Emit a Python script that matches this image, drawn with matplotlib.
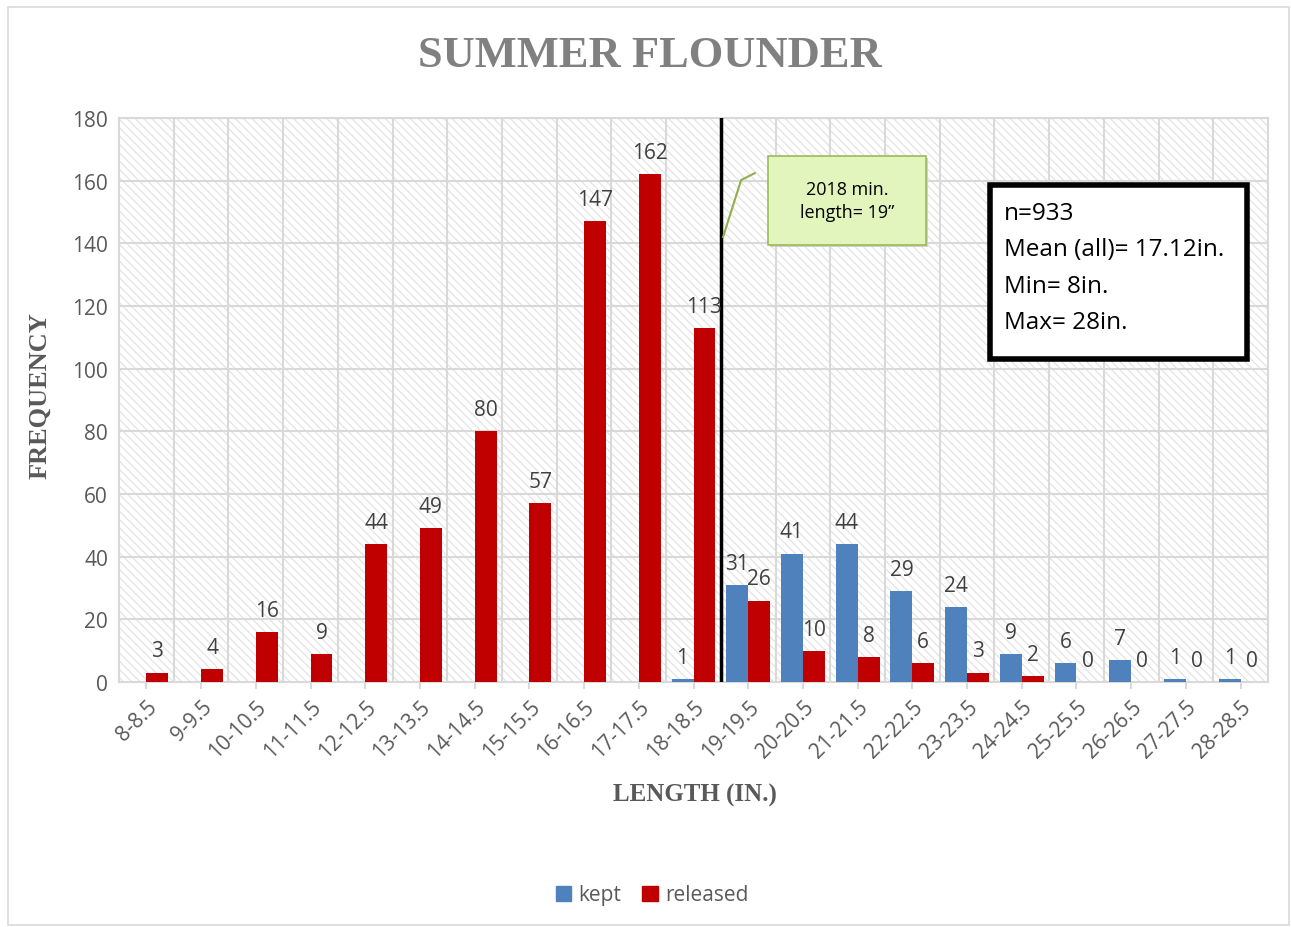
import matplotlib
matplotlib.use("Agg")
import matplotlib.pyplot as plt
from matplotlib.patches import Rectangle
import numpy as np

categories = ["8-8.5", "9-9.5", "10-10.5", "11-11.5", "12-12.5", "13-13.5", "14-14.5",
              "15-15.5", "16-16.5", "17-17.5", "18-18.5", "19-19.5", "20-20.5", "21-21.5",
              "22-22.5", "23-23.5", "24-24.5", "25-25.5", "26-26.5", "27-27.5", "28-28.5"]
kept = [None, None, None, None, None, None, None, None, None, None,
        1, 31, 41, 44, 29, 24, 9, 6, 7, 1, 1]
released = [3, 4, 16, 9, 44, 49, 80, 57, 147, 162,
            113, 26, 10, 8, 6, 3, 2, 0, 0, 0, 0]

KEPT_C = "#4F81BD"
REL_C = "#C00000"
GRID_C = "#d9d9d9"
TXT_C = "#595959"
LAB_C = "#404040"
SANS = ["Open Sans", "DejaVu Sans"]
SERIF = ["Liberation Serif", "DejaVu Serif"]

plt.rcParams["hatch.linewidth"] = 0.9

fig = plt.figure(figsize=(12.91, 9.28), dpi=100)
ax = fig.add_axes([119/1291, 1-683/928, (1268-119)/1291, (683-119)/928])

n = len(categories)
x = np.arange(n)
w = 0.4

ax.set_xlim(-0.5, n-0.5)
ax.set_ylim(0, 180)

# hatched background
bg = Rectangle((0, 0), 1, 1, transform=ax.transAxes, facecolor="white",
               edgecolor="#e4e4e4", hatch="\\"*4, lw=0, zorder=0)
ax.add_patch(bg)

kx = [xi for xi, v in zip(x, kept) if v is not None]
kv = [v for v in kept if v is not None]
ax.bar(np.array(kx) - w/2, kv, width=w, color=KEPT_C, zorder=3)
ax.bar(x + w/2, released, width=w, color=REL_C, zorder=3)

for xi, v in zip(kx, kv):
    ax.annotate(str(v), (xi - w/2, v), xytext=(0, 8), textcoords="offset points",
                ha="center", va="bottom", fontsize=15, color=LAB_C, family=SANS, zorder=5)
for xi, v in zip(x, released):
    ax.annotate(str(v), (xi + w/2, v), xytext=(0, 8), textcoords="offset points",
                ha="center", va="bottom", fontsize=15, color=LAB_C, family=SANS, zorder=5)

# grid
ax.set_yticks(np.arange(0, 181, 20))
for yv in np.arange(20, 181, 20):
    ax.axhline(yv, color=GRID_C, lw=1.5, zorder=1)
for b in np.arange(0.5, n-0.5, 1):
    ax.axvline(b, color=GRID_C, lw=1.5, zorder=1)

for s in ["top", "right", "left", "bottom"]:
    ax.spines[s].set_color(GRID_C)
    ax.spines[s].set_linewidth(1.5)

ax.set_xticks(x)
ax.set_xticklabels(categories, rotation=45, ha="right", rotation_mode="anchor",
                   fontsize=15, color=TXT_C, family=SANS)
ax.tick_params(axis="x", length=5, color=GRID_C, width=1.5, pad=5)
ax.tick_params(axis="y", length=0, pad=8, labelsize=15, labelcolor=TXT_C)
for lbl in ax.get_yticklabels():
    lbl.set_family(SANS)

# min length line
ax.axvline(10.5, color="black", lw=2.5, zorder=4)

# callout
ax.plot([11.12, 10.87, 10.54], [162.4, 160.2, 142], color="#8db04a", lw=1.5, zorder=6,
        clip_on=False)
shadow = Rectangle((11.40, 138.7), 14.25-11.36, 167.9-139.5, facecolor="#cfcfcf",
                   edgecolor="none", zorder=5.5)
ax.add_patch(shadow)
box = Rectangle((11.36, 139.5), 14.25-11.36, 167.9-139.5, facecolor="#e2f5bd",
                edgecolor="#9bbb59", lw=1.2, zorder=6)
ax.add_patch(box)
ax.text((11.36+14.25)/2, (139.5+167.9)/2, "2018 min.\nlength= 19\u201d", ha="center",
        va="center", fontsize=13, color="black", family=SANS, zorder=7, linespacing=1.35)

# stats box
fig.patches.append(Rectangle((990/1291, 1-360/928), (1247-990)/1291, (360-186)/928,
                             transform=fig.transFigure, facecolor="white",
                             edgecolor="black", lw=4, zorder=8))
stats = ["n=933", "Mean (all)= 17.12in.", "Min= 8in.", "Max= 28in."]
for i, s in enumerate(stats):
    fig.text(1004/1291, 1-(214+36.3*i)/928, s, ha="left", va="center", fontsize=17.5,
             color="black", family=SANS, zorder=9)

# titles
fig.text(650/1291, 1-56/928, "SUMMER FLOUNDER", ha="center", va="center", fontsize=32,
         fontweight="bold", color="#808080", family=SERIF)
fig.text(40/1291, 1-396/928, "FREQUENCY", ha="center", va="center", rotation=90,
         fontsize=19, fontweight="bold", color="#595959", family=SERIF)
fig.text(695/1291, 1-795/928, "LENGTH (IN.)", ha="center", va="center",
         fontsize=18, fontweight="bold", color="#595959", family=SERIF)

# legend
handles = [Rectangle((0, 0), 1, 1, color=KEPT_C), Rectangle((0, 0), 1, 1, color=REL_C)]
fig.legend(handles, ["kept", "released"], loc="center", bbox_to_anchor=(652/1291, 1-896/928),
           ncol=2, frameon=False, prop={"family": SANS, "size": 15}, labelcolor=TXT_C,
           handlelength=0.75, handleheight=0.75, handletextpad=0.35, columnspacing=1.0)

# chart border
fig.patches.append(Rectangle((8/1291, 2/928), 1-10/1291, 1-10/928, transform=fig.transFigure,
                             facecolor="none", edgecolor=GRID_C, lw=1.2))

fig.savefig("out.png", dpi=100, facecolor="white")
